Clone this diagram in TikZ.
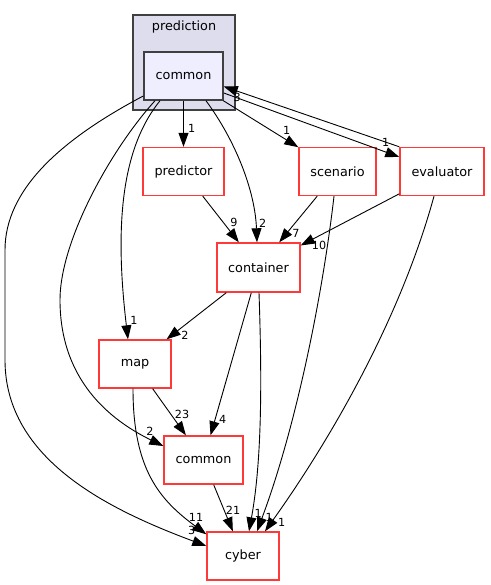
\documentclass[tikz,border=0pt]{standalone}
\usepackage{fontspec}
\setmainfont{DejaVu Sans}
\usetikzlibrary{arrows.meta,calc}
\definecolor{clusterfill}{HTML}{DDDDEE}
\definecolor{innerfill}{HTML}{EEEEFF}
\definecolor{darkpen}{HTML}{404040}
\definecolor{dirred}{HTML}{FF3838}
\tikzset{
  dirbox/.style={draw=dirred, line width=1.4pt, fill=white, inner sep=0pt, minimum height=48pt, font=\fontsize{12.8}{15}\selectfont},
  innerbox/.style={draw=darkpen, line width=1.5pt, fill=innerfill, inner sep=0pt, minimum height=48pt, minimum width=79pt, font=\fontsize{12.8}{15}\selectfont},
  dep/.style={draw=black, line width=0.9pt, -{Triangle[length=14pt,width=10pt]}},
  cnt/.style={inner sep=0pt, font=\fontsize{11.2}{13}\selectfont},
}
\begin{document}
\begin{tikzpicture}[x=1pt,y=-1pt]
\useasboundingbox (0,0) rectangle (490,585);
% cluster
\node[draw=darkpen, line width=1.2pt, fill=clusterfill, minimum width=102pt, minimum height=95pt, inner sep=0pt] (clust) at (184,62.5) {};
\node[font=\fontsize{12.8}{15}\selectfont, inner sep=0pt] (clustlbl) at (184,27) {prediction};
\node[innerbox] (pc) at (183.5,76) {common};
% nodes
\node[dirbox, minimum width=81pt] (pred) at (183.5,171.5) {predictor};
\node[dirbox, minimum width=77pt] (scen) at (337.5,171.5) {scenario};
\node[dirbox, minimum width=84pt] (eval) at (442,171.5) {evaluator};
\node[dirbox, minimum width=83pt, minimum height=49pt] (cont) at (258.5,267.5) {container};
\node[dirbox, minimum width=72pt] (map) at (135,364) {map};
\node[dirbox, minimum width=79pt] (comm) at (203.5,460) {common};
\node[dirbox, minimum width=72pt] (cyber) at (243,556) {cyber};
% edges
\draw[dep] (pc) -- (pred);
\draw[dep] (pc) -- (scen);
\draw[dep] ($(pc.east)+(0,17)$) -- ($(eval.west)+(0,-14.5)$);
\draw[dep] (eval.north west) -- ($(pc.east)+(0,10.5)$);
\draw[dep] ($(pc.south)+(22.5,0)$) .. controls (235,140) and (255,190) .. ($(cont.north)+(-1.5,0)$);
\draw[dep] ($(pc.south)+(-23.5,0)$) .. controls (120,150) and (115,230) .. ($(map.north)+(-7,0)$);
\draw[dep] ($(pc.south)+(-28.5,0)$) .. controls (112,148) and (60,240) .. (60,300) .. controls (60,380) and (110,420) .. ($(comm.west)+(0,-14)$);
\draw[dep] ($(pc.west)+(0,20)$) .. controls (60,140) and (5,190) .. (5,250) -- (5,360) .. controls (5,460) and (110,510) .. ($(cyber.west)+(0,-10)$);
\draw[dep] (pred) -- (cont);
\draw[dep] (scen) -- (cont);
\draw[dep] (eval) -- (cont);
\draw[dep] (cont) -- (map);
\draw[dep] (cont) -- (comm);
\draw[dep] ($(cont.south)+(0.5,0)$) .. controls (262,380) and (262,460) .. ($(cyber.north)+(6,0)$);
\draw[dep] ($(scen.south)+(-3.5,0)$) .. controls (322,300) and (295,430) .. ($(cyber.north)+(14,0)$);
\draw[dep] ($(eval.south)+(-8,0)$) .. controls (400,320) and (330,440) .. ($(cyber.north)+(22,0)$);
\draw[dep] (map) -- (comm);
\draw[dep] ($(map.south)+(-2,0)$) .. controls (133,470) and (160,500) .. ($(cyber.north west)+(0,3)$);
\draw[dep] (comm) -- (cyber);
% counts
\node[cnt] (l1) at (191.7,128) {1};
\node[cnt] (l2) at (286.7,130) {1};
\node[cnt] (l3) at (385.7,142.7) {1};
\node[cnt] (l4) at (237.3,97.5) {3};
\node[cnt] (l5) at (262.7,223) {2};
\node[cnt] (l6) at (234,222.7) {9};
\node[cnt] (l7) at (296,233) {7};
\node[cnt] (l8) at (319,245) {10};
\node[cnt] (l9) at (134,320) {1};
\node[cnt] (l10) at (185,335) {2};
\node[cnt] (l11) at (150,431.7) {2};
\node[cnt] (l12) at (182,414) {23};
\node[cnt] (l13) at (222.7,419) {4};
\node[cnt] (l14) at (191.7,530.7) {3};
\node[cnt] (l15) at (196,517.7) {11};
\node[cnt] (l16) at (233,510) {21};
\node[cnt] (l17) at (258.3,513) {1};
\node[cnt] (l18) at (269.3,517.7) {1};
\node[cnt] (l19) at (281.7,522.7) {1};
\end{tikzpicture}
\end{document}
